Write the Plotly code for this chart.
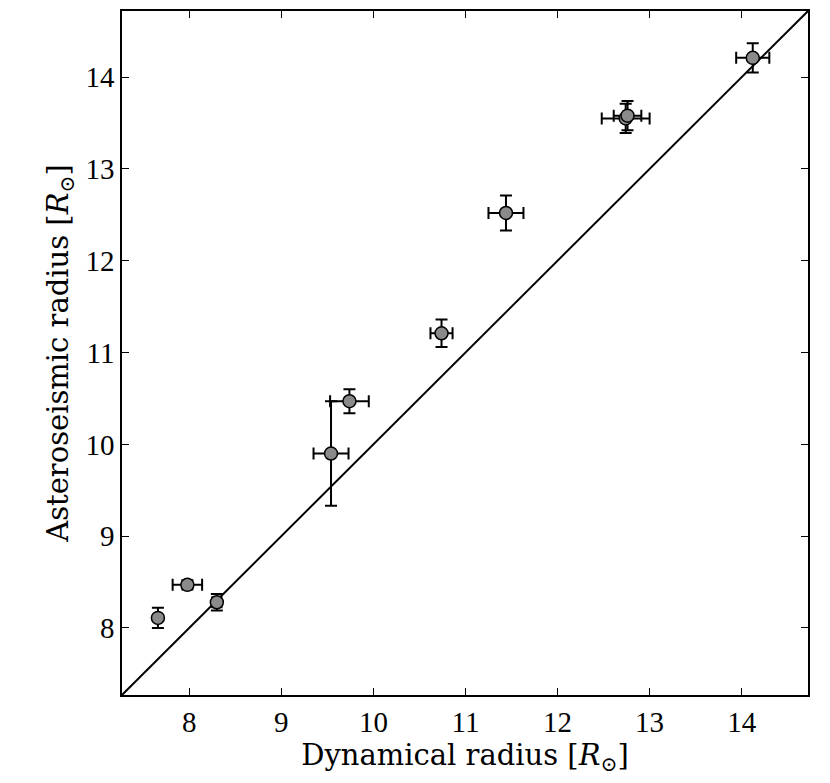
import plotly.graph_objects as go

# radii in solar units
dyn_radius = [7.66, 7.98, 8.30, 9.54, 9.74, 10.74, 11.44, 12.74, 12.76, 14.12]
dyn_err = [0.03, 0.16, 0.05, 0.19, 0.21, 0.12, 0.19, 0.26, 0.15, 0.18]
ast_radius = [8.11, 8.47, 8.28, 9.90, 10.47, 11.21, 12.52, 13.55, 13.58, 14.21]
ast_err = [0.11, 0.05, 0.09, 0.57, 0.13, 0.15, 0.19, 0.16, 0.16, 0.16]

axis_range = [7.27, 14.72]
tick_vals = [8, 9, 10, 11, 12, 13, 14]

tick_family = "Liberation Serif, DejaVu Serif, serif"
title_family = "DejaVu Serif, Liberation Serif, serif"

fig = go.Figure()

# 1:1 line
fig.add_trace(go.Scatter(
    x=axis_range,
    y=axis_range,
    mode='lines',
    line=dict(color='black', width=2),
    showlegend=False,
    hoverinfo='skip'
))

fig.add_trace(go.Scatter(
    x=dyn_radius,
    y=ast_radius,
    mode='markers',
    marker=dict(size=13, color='#8a8a8a', line=dict(color='black', width=1.5)),
    error_x=dict(type='data', array=dyn_err, color='black', thickness=2, width=6),
    error_y=dict(type='data', array=ast_err, color='black', thickness=2, width=6),
    showlegend=False
))

axis_style = dict(
    range=axis_range,
    tickvals=tick_vals,
    showline=True,
    mirror='ticks',
    linecolor='black',
    linewidth=1.5,
    ticks='inside',
    ticklen=7,
    tickwidth=1.2,
    tickcolor='black',
    showgrid=False,
    zeroline=False,
    tickfont=dict(size=29, color='black', family=tick_family),
)

fig.update_xaxes(
    title=dict(text="Dynamical radius [<i>R</i><sub>⊙</sub>]",
               font=dict(size=29, color='black', family=title_family), standoff=4),
    **axis_style
)
fig.update_yaxes(
    title=dict(text="Asteroseismic radius [<i>R</i><sub>⊙</sub>]",
               font=dict(size=29, color='black', family=title_family), standoff=8),
    **axis_style
)

# page body adds 8px around the plot div, so the size is trimmed to match
fig.update_layout(
    width=814,
    height=768,
    autosize=False,
    margin=dict(l=114, r=14, t=1, b=81),
    plot_bgcolor='white',
    paper_bgcolor='white',
    font=dict(family=tick_family, color='black'),
)

fig.write_html("out.html")
